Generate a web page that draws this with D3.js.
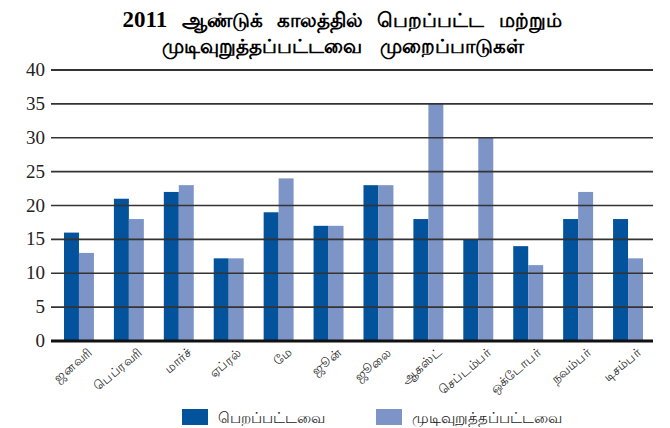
<!DOCTYPE html>
<html>
<head>
<meta charset="utf-8">
<script src="https://cdn.jsdelivr.net/npm/d3@7"></script>
<style>
  body { margin: 0; background: #fff; }
  text { font-family: "Noto Sans", "DejaVu Sans", sans-serif; }
</style>
</head>
<body>
<div id="chart"></div>
<script>
// மாதங்கள்
const months = ["ஜனவரி", "பெப்ரவரி", "மார்ச்", "ஏப்ரல்", "மே", "ஜூன்",
  "ஜூலை", "ஆகஸ்ட்", "செப்டம்பர்", "ஒக்டோபர்", "நவம்பர்", "டிசம்பர்"];
const received = [16, 21, 22, 12.2, 19, 17, 23, 18, 15, 14, 18, 18];
const completed = [13, 18, 23, 12.2, 24, 17, 23, 35, 30, 11.2, 22, 12.2];
const seriesNames = ["பெறப்பட்டவை", "முடிவுறுத்தப்பட்டவை"];
const yTicks = [0, 5, 10, 15, 20, 25, 30, 35, 40];
const titleYear = "2011";
const titleLines = ["ஆண்டுக் காலத்தில் பெறப்பட்ட மற்றும்", "முடிவுறுத்தப்பட்டவை முறைப்பாடுகள்"];

const colors = ["#02529c", "#7c94c6"];

const svg = d3.select("#chart").append("svg")
    .attr("width", 670)
    .attr("height", 428)
    .style("background-color", "white");

// 축
const y = d3.scaleLinear().domain([0, 40]).range([341, 70]);
const x = d3.scaleBand().domain(months).range([54, 653]).paddingInner(0.4).paddingOuter(0.2);
const xs = d3.scaleBand().domain([0, 1]).range([0, x.bandwidth()]);

// 제목
const t1 = svg.append("text")
    .attr("x", 342).attr("y", 27)
    .attr("text-anchor", "middle")
    .style("font-size", "20px")
    .style("font-weight", "bold")
    .style("word-spacing", "9px");
t1.append("tspan")
    .style("font-family", "'Liberation Serif', serif")
    .style("font-size", "23px")
    .text(titleYear + " ");
t1.append("tspan").text(titleLines[0]);

svg.append("text")
    .attr("x", 343).attr("y", 53)
    .attr("text-anchor", "middle")
    .style("font-size", "20px")
    .style("font-weight", "bold")
    .style("word-spacing", "12px")
    .text(titleLines[1]);

// 막대
const groups = svg.selectAll(".grp")
  .data(months)
  .enter().append("g")
    .attr("transform", d => `translate(${x(d)},0)`);

groups.selectAll("rect")
  .data((d, i) => [received[i], completed[i]])
  .enter().append("rect")
    .attr("x", (d, j) => xs(j))
    .attr("width", xs.bandwidth())
    .attr("y", d => y(d))
    .attr("height", d => y(0) - y(d))
    .style("fill", (d, j) => colors[j]);

// 격자선 (막대 위에)
svg.selectAll(".grid")
  .data(yTicks)
  .enter().append("line")
    .attr("x1", 51).attr("x2", 653)
    .attr("y1", d => y(d)).attr("y2", d => y(d))
    .style("stroke", d => d === 0 ? "#111" : "#333")
    .style("stroke-width", d => d === 0 ? 3 : (d === 40 ? 2.2 : 1.6));

svg.selectAll(".ylab")
  .data(yTicks)
  .enter().append("text")
    .attr("x", 45)
    .attr("y", d => y(d) + 6)
    .attr("text-anchor", "end")
    .style("font-family", "'Liberation Serif', serif")
    .style("font-size", "19px")
    .style("fill", "#222")
    .text(d => d);

// x 라벨
svg.selectAll(".xlab")
  .data(months)
  .enter().append("text")
    .attr("transform", d => `translate(${x(d) + x.bandwidth() / 2 + 14},354) rotate(-40)`)
    .attr("text-anchor", "end")
    .style("font-size", "12.5px")
    .style("fill", "#222")
    .text(d => d);

// 범례
const legend = svg.selectAll(".leg")
  .data(seriesNames)
  .enter().append("g")
    .attr("transform", (d, i) => `translate(${182 + i * 194},409)`);
legend.append("rect")
    .attr("width", 26).attr("height", 16)
    .style("fill", (d, i) => colors[i]);
legend.append("text")
    .attr("x", 36).attr("y", 14)
    .style("font-size", "15px")
    .style("fill", "#222")
    .text(d => d);
</script>
</body>
</html>
